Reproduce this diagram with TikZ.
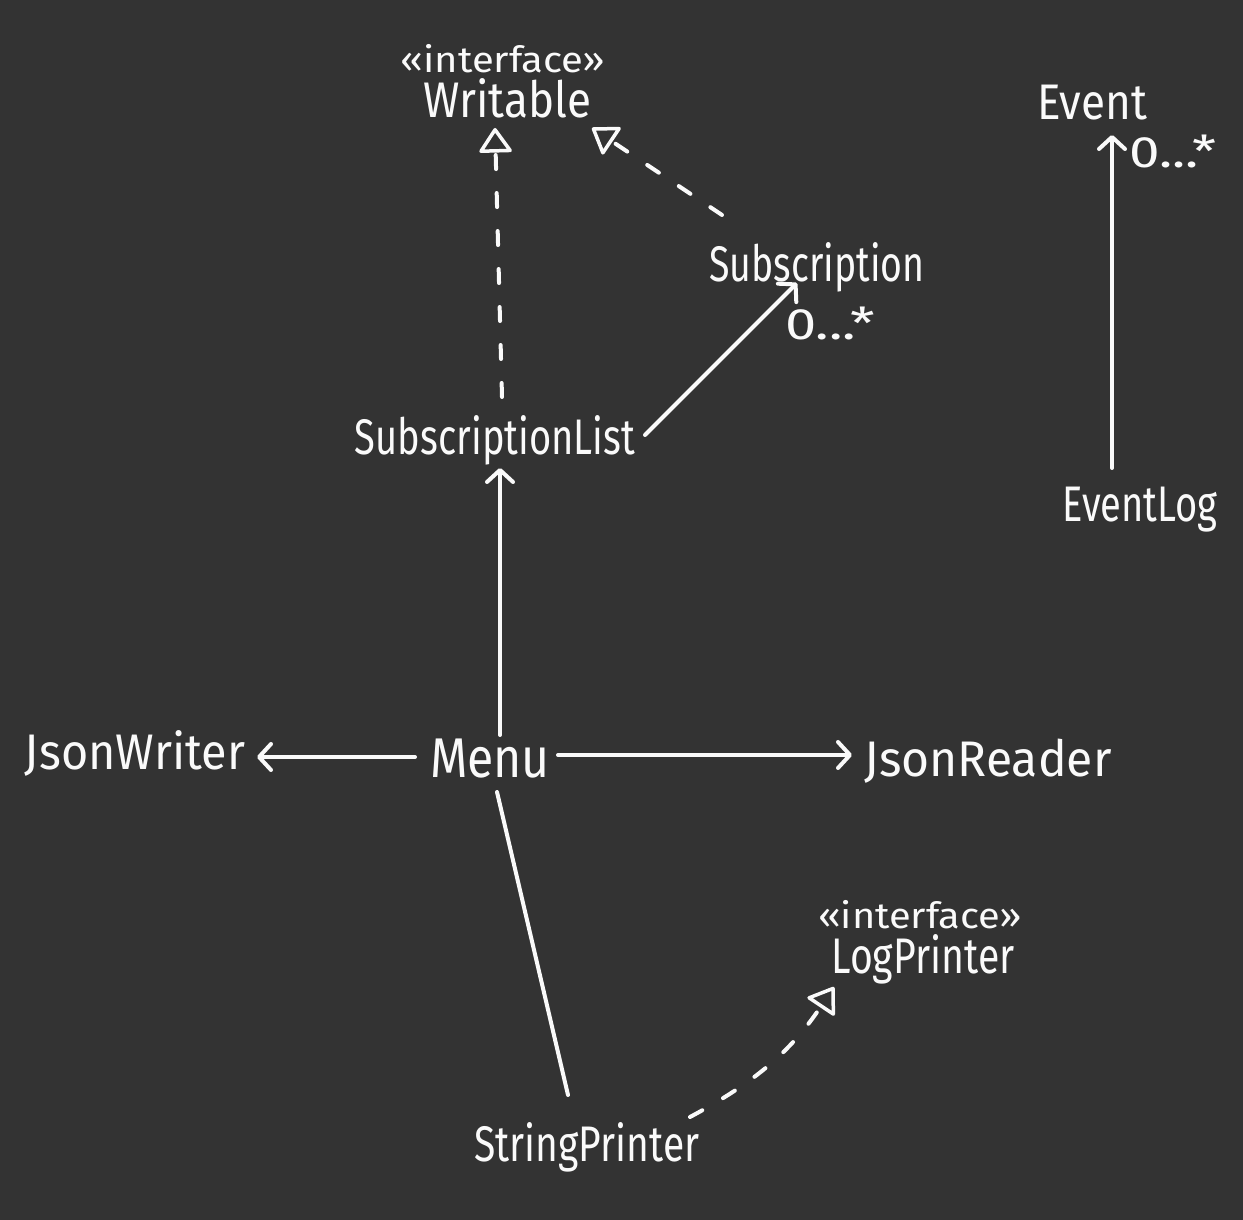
\documentclass[tikz,border=0pt]{standalone}
\usepackage{fontspec}
\setmainfont{Fira Sans}
\usetikzlibrary{arrows.meta}
\definecolor{board}{HTML}{333333}
\definecolor{chalk}{HTML}{FAFAFA}
% set a label at a given width, keeping its natural height
\newcommand{\hw}[2]{\resizebox{#1pt}{\height}{#2}}
\begin{document}
\begin{tikzpicture}[x=1pt,y=1pt,
  lbl/.style={anchor=base, inner sep=0pt, text=chalk, font=\fontsize{50}{52}\selectfont},
  stereo/.style={lbl, font=\fontsize{36}{38}\selectfont},
  mult/.style={lbl, font=\fontsize{44}{46}\selectfont},
  wire/.style={draw=chalk, line width=4pt, line cap=round},
  assoc/.style={wire, -{Straight Barb[length=12pt,width=26pt,line cap=round,line join=round]}},
  realize/.style={wire, dash pattern=on 14pt off 24pt, -{Triangle[open,length=26pt,width=35pt,line width=3.5pt,round]}}]
\fill[board] (0,0) rectangle (1243,1220);

% classes and interfaces
\node[stereo] (wst) at (503,1147) {\hw{205}{«interface»}};
\node[lbl] (writable) at (507,1102) {\hw{168}{Writable}};
\node[lbl] (sub) at (817,938) {\hw{215}{Subscription}};
\node[mult] (subm) at (830,880) {\hw{90}{0...*}};
\node[lbl] (slist) at (495,765) {\hw{280}{SubscriptionList}};
\node[lbl] (event) at (1092,1100) {\hw{110}{Event}};
\node[mult] (eventm) at (1173,1052) {\hw{88}{0...*}};
\node[lbl] (elog) at (1140,698) {\hw{155}{EventLog}};
\node[lbl] (jw) at (135,450) {\hw{220}{JsonWriter}};
\node[lbl, font=\fontsize{56}{58}\selectfont] (menu) at (490,442) {\hw{120}{Menu}};
\node[lbl] (jr) at (988,443) {\hw{247}{JsonReader}};
\node[stereo] (lpst) at (920,291) {\hw{204}{«interface»}};
\node[lbl] (lp) at (923,246) {\hw{183}{LogPrinter}};
\node[lbl] (sp) at (587,58) {\hw{225}{StringPrinter}};

% realizations
\draw[realize] ([shift={(7,58)}]slist.base) -- ([shift={(-12,-10)}]writable.base);
\draw[realize] ([shift={(-95,67)}]sub.base) -- ([shift={(85,-10)}]writable.base);
\draw[realize] ([shift={(103,45)}]sp.base) to[bend right=14] ([shift={(-89,-13)}]lp.base);

% associations
\draw[assoc] ([shift={(150,20)}]slist.base) -- ([shift={(-20,-1)}]sub.base);
\draw[assoc] ([shift={(10,43)}]menu.base) -- ([shift={(5,-13)}]slist.base);
\draw[assoc] ([shift={(-28,54)}]elog.base) -- ([shift={(20,-15)}]event.base);
\draw[assoc] ([shift={(-75,21)}]menu.base) -- ([shift={(122,13)}]jw.base);
\draw[assoc] ([shift={(68,23)}]menu.base) -- ([shift={(-136,22)}]jr.base);
\draw[wire] ([shift={(7,-14)}]menu.base) -- ([shift={(-19,67)}]sp.base);
\end{tikzpicture}
\end{document}
